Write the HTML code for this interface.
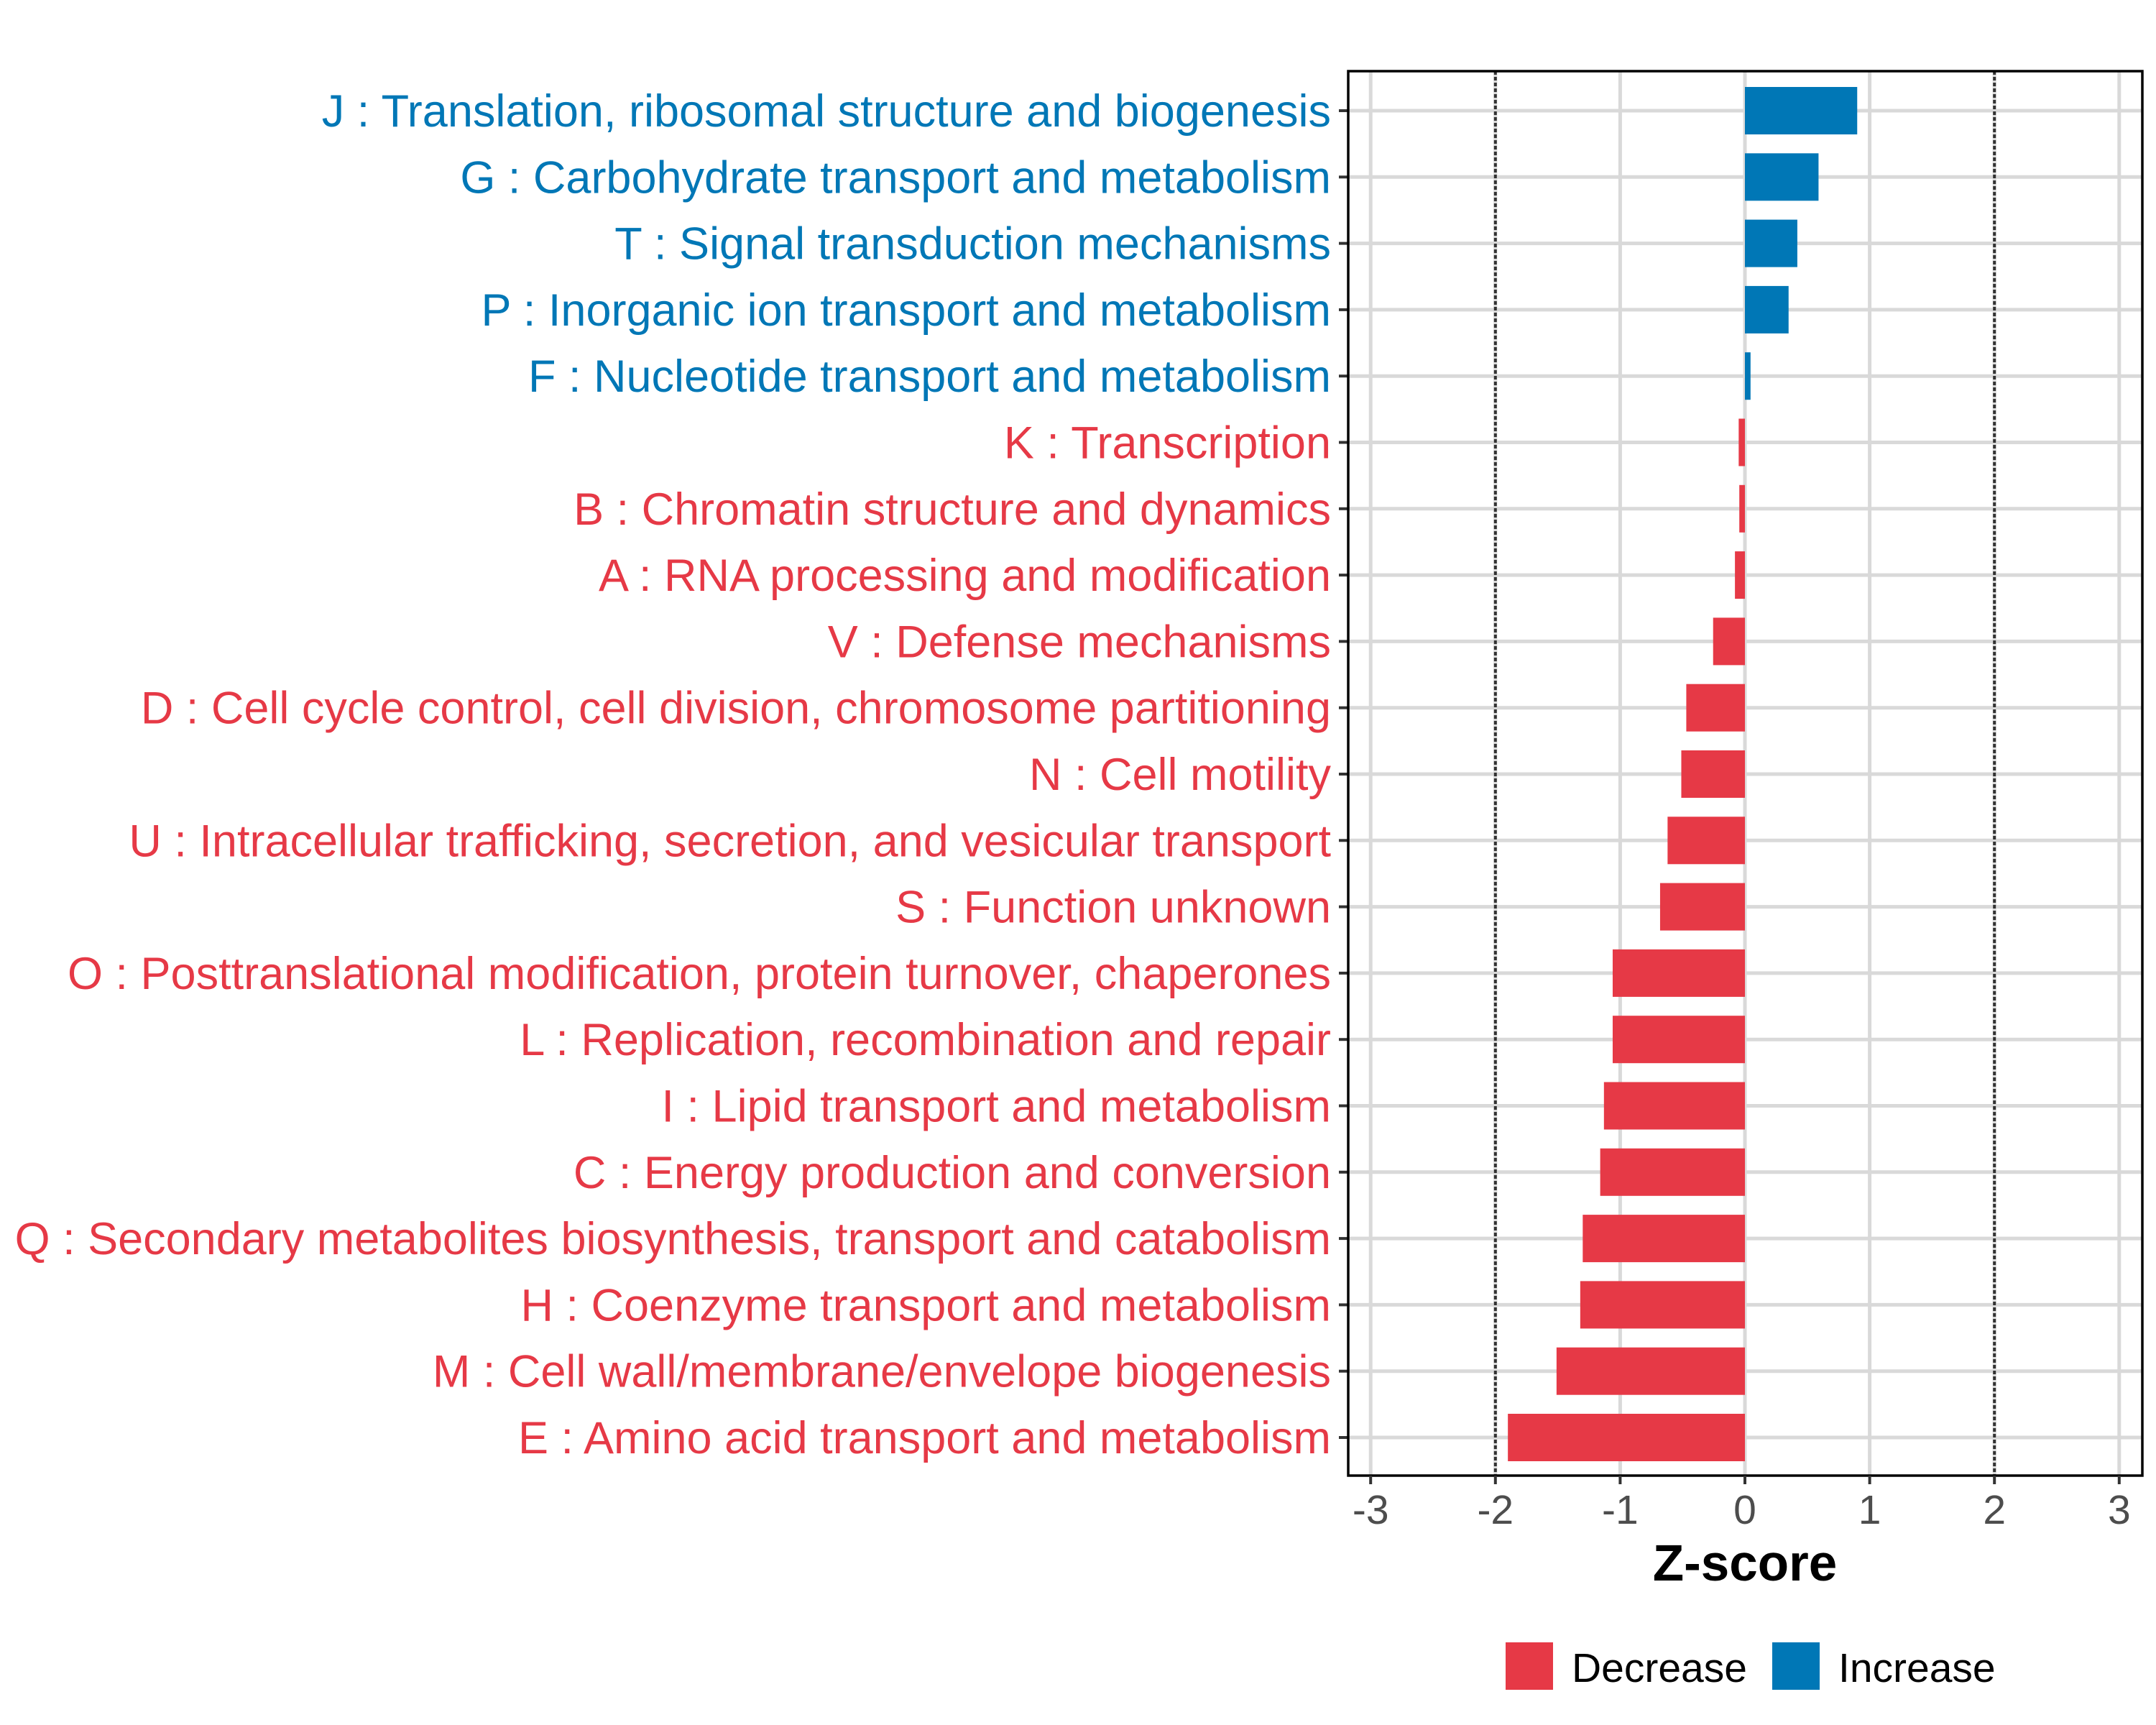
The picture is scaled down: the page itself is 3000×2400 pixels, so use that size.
<!DOCTYPE html>
<html><head><meta charset="utf-8"><style>
html,body{margin:0;padding:0;background:#fff;}
svg{display:block;font-family:"Liberation Sans",Arial,sans-serif;}
</style></head><body>
<svg id="chart" width="3000" height="2400" viewBox="0 0 3000 2400" xmlns="http://www.w3.org/2000/svg"></svg>
<script>
const categories = [
"J : Translation, ribosomal structure and biogenesis",
"G : Carbohydrate transport and metabolism",
"T : Signal transduction mechanisms",
"P : Inorganic ion transport and metabolism",
"F : Nucleotide transport and metabolism",
"K : Transcription",
"B : Chromatin structure and dynamics",
"A : RNA processing and modification",
"V : Defense mechanisms",
"D : Cell cycle control, cell division, chromosome partitioning",
"N : Cell motility",
"U : Intracellular trafficking, secretion, and vesicular transport",
"S : Function unknown",
"O : Posttranslational modification, protein turnover, chaperones",
"L : Replication, recombination and repair",
"I : Lipid transport and metabolism",
"C : Energy production and conversion",
"Q : Secondary metabolites biosynthesis, transport and catabolism",
"H : Coenzyme transport and metabolism",
"M : Cell wall/membrane/envelope biogenesis",
"E : Amino acid transport and metabolism"];
const zscores = [0.90,0.59,0.42,0.35,0.045,-0.05,-0.045,-0.08,-0.255,-0.47,-0.51,-0.62,-0.68,-1.06,-1.06,-1.13,-1.16,-1.30,-1.32,-1.51,-1.90];
const xTicks = [-3,-2,-1,0,1,2,3];
const thresholds = [-2,2];

const RED="#E63946", BLUE="#0077B6";
const L=1876, R=2981, T=99, B=2053;
const x0=2428, unit=173.6;
const sx = v => x0 + v*unit;
const row0=154, rowStep=92.3;
const sy = i => row0 + i*rowStep;
const barH=66;

const svg=document.getElementById('chart');
const NS="http://www.w3.org/2000/svg";
function mk(tag, attrs, parent){const e=document.createElementNS(NS,tag);for(const k in attrs)e.setAttribute(k,attrs[k]);(parent||svg).appendChild(e);return e;}

xTicks.forEach(v=>{
  const g=mk('line',{x1:sx(v),x2:sx(v),y1:T,y2:B,stroke:'#d9d9d9','stroke-width':5});
  
  
});
categories.forEach((c,i)=>{
  const g=mk('line',{x1:L,x2:R,y1:sy(i),y2:sy(i),stroke:'#d9d9d9','stroke-width':5});
  
  
});
thresholds.forEach(v=>{
  const g=mk('line',{x1:sx(v),x2:sx(v),y1:T,y2:B,stroke:'#333','stroke-width':4,'stroke-dasharray':'5 3'});
  
  
});
zscores.forEach((v,i)=>{
  const xa=Math.min(sx(0),sx(v)), w=Math.abs(sx(v)-sx(0));
  const r=mk('rect',{x:xa,y:sy(i)-barH/2,width:w,height:barH,fill:v>=0?BLUE:RED});
  
  
  const t=mk('line',{x1:L-13,x2:L,y1:sy(i),y2:sy(i),stroke:'#333','stroke-width':4});
  
  
  const lb=mk('text',{x:1852,y:sy(i)+22,'text-anchor':'end','font-size':63,fill:v>=0?BLUE:RED});
  lb.textContent=categories[i];
  
  
});
const pb=mk('rect',{x:L,y:T,width:R-L,height:B-T,fill:'none',stroke:'#000','stroke-width':3.5});


xTicks.forEach(v=>{
  const t=mk('line',{x1:sx(v),x2:sx(v),y1:B,y2:B+12,stroke:'#333','stroke-width':4});
  
  
  const lb=mk('text',{x:sx(v),y:2120,'text-anchor':'middle','font-size':57,fill:'#4d4d4d'});
  lb.textContent=String(v);
  
  
});
const xt=mk('text',{x:2428,y:2199,'text-anchor':'middle','font-size':71,'font-weight':'bold',fill:'#000'});
xt.textContent='Z-score';


const legend=[["Decrease",RED,2095,2187],["Increase",BLUE,2466,2558]];
legend.forEach(d=>{
  const k=mk('rect',{x:d[2],y:2285,width:66,height:66,fill:d[1]});
  
  
  const t=mk('text',{x:d[3],y:2340,'font-size':57,fill:'#000'});
  t.textContent=d[0];
  
  
});
</script>
</body></html>
